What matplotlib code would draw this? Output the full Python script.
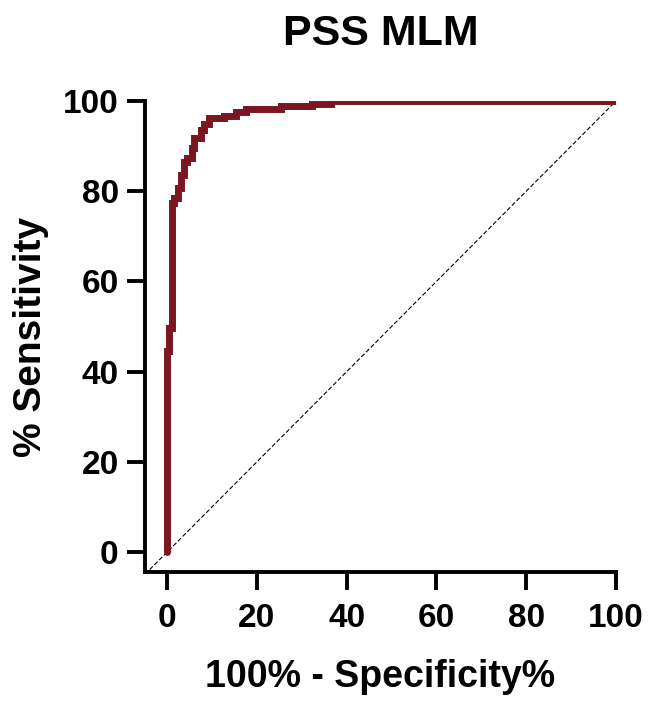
import matplotlib.pyplot as plt

plt.rcParams['font.family'] = ['Liberation Sans', 'DejaVu Sans']
plt.rcParams['font.weight'] = 'bold'

# ROC curve points (100% - specificity, sensitivity)
fpr = [0, 0, 0.5, 0.5, 1.0, 1.0, 1.5, 1.5, 2.5, 2.5, 3.2, 3.2, 3.8, 3.8, 4.5, 4.5,
       5.5, 5.5, 6.0, 6.0, 7.5, 7.5, 8.3, 8.3, 9.4, 9.4, 12.7, 12.7, 15.4, 15.4,
       17.6, 17.6, 25.4, 25.4, 32.4, 32.4, 36.6, 36.6, 100]
sens = [0, 44.5, 44.5, 49.7, 49.7, 77.3, 77.3, 78.6, 78.6, 80.8, 80.8, 83.5, 83.5,
        86.5, 86.5, 87.3, 87.3, 89.5, 89.5, 91.8, 91.8, 93.5, 93.5, 95.0, 95.0,
        96.2, 96.2, 96.6, 96.6, 97.5, 97.5, 98.2, 98.2, 98.8, 98.8, 99.3, 99.3,
        100, 100]
ticks = [0, 20, 40, 60, 80, 100]

fig = plt.figure(figsize=(6.5, 7.06), dpi=100)
ax = fig.add_axes([0.2231, 0.1898, 0.7246, 0.6671])

x0, y0 = -4.9, -4.4
ax.plot([x0, 100], [x0, 100], color='black', lw=0.8, ls=(0, (4, 2)), zorder=1)
ax.plot(fpr, sens, color='#7B1621', lw=5, solid_joinstyle='miter',
        solid_capstyle='round', zorder=2)

ax.set_xlim(x0, 100)
ax.set_ylim(y0, 100)
ax.set_xticks(ticks)
ax.set_yticks(ticks)
for s in ['top', 'right']:
    ax.spines[s].set_visible(False)
for s in ['left', 'bottom']:
    ax.spines[s].set_linewidth(2.8)
ax.tick_params(width=2.8, length=13, labelsize=24)
ax.tick_params(axis='x', pad=9)
ax.tick_params(axis='y', pad=6)
for lab in ax.get_xticklabels() + ax.get_yticklabels():
    lab.set_fontweight('bold')

ax.set_xlabel('100% - Specificity%', fontsize=27, fontweight='bold', labelpad=18)
ax.set_ylabel('% Sensitivity', fontsize=28, fontweight='bold', labelpad=10)
ax.set_title('PSS MLM', fontsize=31, fontweight='bold', pad=40)

fig.savefig('out.png', dpi=100)
